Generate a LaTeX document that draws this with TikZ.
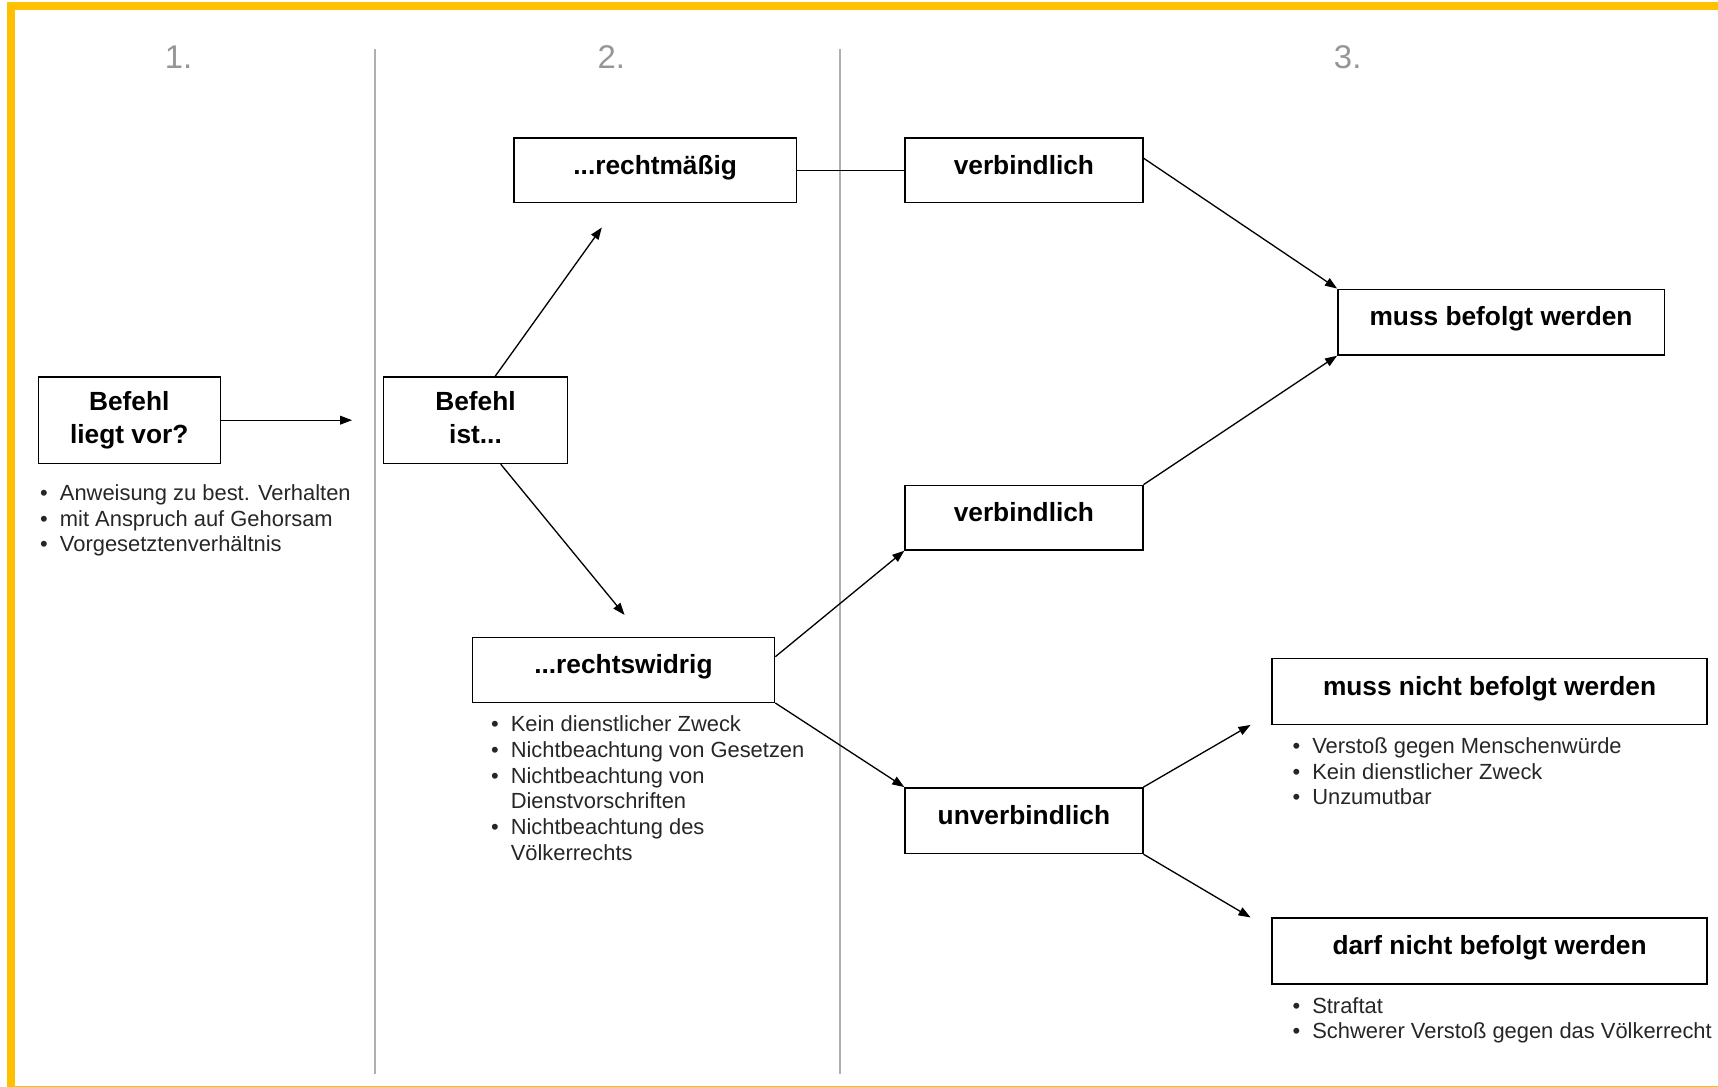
\documentclass[tikz,border=0pt]{standalone}
\usepackage{fontspec}
\setmainfont{Liberation Sans}
\usetikzlibrary{arrows.meta}
\definecolor{frameyellow}{RGB}{255,192,0}
\definecolor{headgray}{RGB}{150,150,150}
\definecolor{rulegray}{RGB}{175,175,175}
\newcommand{\bitem}[1]{\makebox[18pt][l]{\textbullet}#1}
\begin{document}
\begin{tikzpicture}[x=1pt,y=-1pt,
    box/.style={draw, line width=1.3pt, inner sep=0pt, font=\fontsize{24}{29}\selectfont\bfseries, text height=17.5pt, text depth=10.5pt},
    twobox/.style={draw, line width=1.3pt, inner sep=0pt, align=center, font=\fontsize{24}{30}\selectfont\bfseries},
    notes/.style={anchor=north west, inner sep=0pt, align=left, font=\fontsize{20}{23.5}\selectfont, text=black!85},
    arr/.style={line width=1.2pt, -{Triangle[length=11pt,width=8pt]}},
    head/.style={text=headgray, font=\fontsize{30}{36}\selectfont}]
    \useasboundingbox (0,0) rectangle (1568,992);
    \clip (0,0) rectangle (1568,992);
    % Draw the yellow frame
    \draw[frameyellow, line width=7pt] (10,5.5) rectangle (1600,995);

    % Place the column numbers and the rules between them
    \node[head] (h1) at (163,52) {1.};
    \node[head] (h2) at (558,52) {2.};
    \node[head] (h3) at (1230,52) {3.};
    \draw[rulegray, line width=2pt] (342,45) -- (342,980);
    \draw[rulegray, line width=2pt] (767,45) -- (767,980);

    % Column 1
    \node[twobox, minimum width=166pt, minimum height=79pt] (vor) at (118,383.5) {Befehl\\liegt vor?};
    \node[notes] (vornotes) at (36.5,442) {\bitem{Anweisung zu best. Verhalten}\\\bitem{mit Anspruch auf Gehorsam}\\\bitem{Vorgesetztenverhältnis}};

    % Column 2
    \node[twobox, minimum width=168pt, minimum height=79pt] (ist) at (434,383.5) {Befehl\\ist...\vphantom{g}};
    \node[box, minimum width=258pt, minimum height=59pt] (recht) at (598,155.5) {...rechtmäßig};
    \node[box, minimum width=276pt, minimum height=59pt] (widrig) at (569,611.5) {...rechtswidrig};
    \node[notes] (widrignotes) at (448,653) {\bitem{Kein dienstlicher Zweck}\\\bitem{Nichtbeachtung von Gesetzen}\\\bitem{Nichtbeachtung von}\\\hspace*{18pt}Dienstvorschriften\\\bitem{Nichtbeachtung des}\\\hspace*{18pt}Völkerrechts};

    % Column 3
    \node[box, minimum width=217pt, minimum height=59pt] (verb1) at (934.5,155.5) {verbindlich};
    \node[box, minimum width=217pt, minimum height=59pt] (verb2) at (934.5,472.5) {verbindlich};
    \node[box, minimum width=217pt, minimum height=60pt] (unverb) at (934.5,749) {unverbindlich};
    \node[box, minimum width=298pt, minimum height=60pt] (muss) at (1370,294) {muss befolgt werden};
    \node[box, minimum width=397pt, minimum height=60pt] (mussnicht) at (1359.5,631) {muss nicht befolgt werden};
    \node[box, minimum width=397pt, minimum height=60pt] (darfnicht) at (1359.5,868) {darf nicht befolgt werden};
    \node[notes] (mussnichtnotes) at (1179.5,673) {\bitem{Verstoß gegen Menschenwürde}\\\bitem{Kein dienstlicher Zweck}\\\bitem{Unzumutbar}};
    \node[notes] (darfnichtnotes) at (1179.5,910) {\bitem{Straftat}\\\bitem{Schwerer Verstoß gegen das Völkerrecht}};

    % Draw the connectors
    \draw[arr, shorten >=28pt] (vor.east) -- (ist.west);
    \draw[arr, shorten >=27pt] ([xshift=18pt]ist.north) -- ([xshift=-33pt]recht.south);
    \draw[arr, shorten >=26pt] ([xshift=23pt]ist.south) -- ([xshift=17.5pt]widrig.north);
    \draw[line width=1.2pt] (recht.east) -- (verb1.west);
    \draw[arr] ([yshift=-19pt]verb1.north east) -- (muss.north west);
    \draw[arr] (verb2.north east) -- (muss.south west);
    \draw[arr] ([yshift=-18pt]widrig.north east) -- (verb2.south west);
    \draw[arr] (widrig.south east) -- (unverb.north west);
    \draw[arr] (unverb.north east) -- ([xshift=-19pt]mussnicht.south west);
    \draw[arr] (unverb.south east) -- ([xshift=-19pt]darfnicht.north west);
\end{tikzpicture}
\end{document}
